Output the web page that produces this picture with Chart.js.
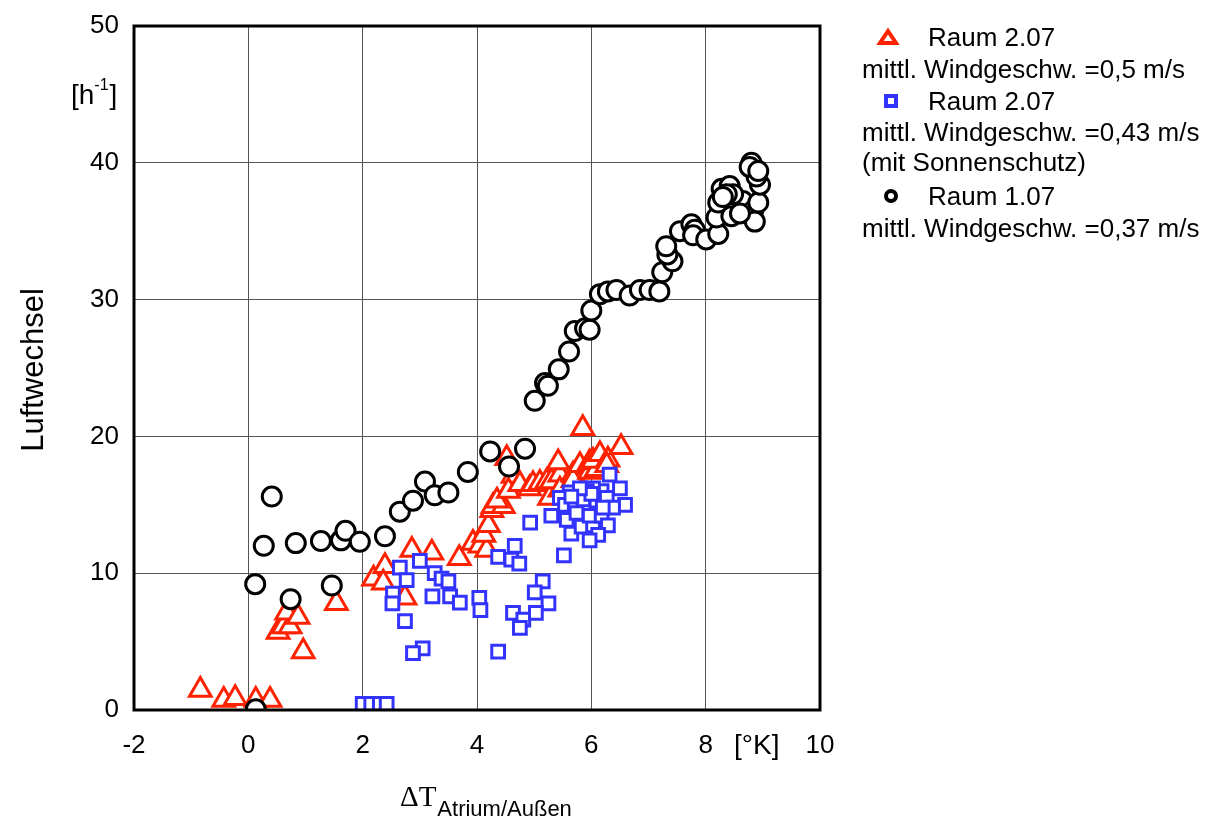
<!DOCTYPE html>
<html>
<head>
<meta charset="utf-8">
<script src="https://cdn.jsdelivr.net/npm/chart.js@4.4.1/dist/chart.umd.min.js"></script>
<style>
  html, body { margin: 0; padding: 0; background: #fff; }
  canvas { display: block; }
</style>
</head>
<body>
<canvas id="chart" width="1210" height="819"></canvas>
<script>
// Raum 2.07, mittl. Windgeschw. 0,5 m/s
const redX = [-0.84, -0.43, -0.23, 0.13, 0.38, 0.52, 0.61, 0.73, 0.67, 0.87, 0.96, 1.54,
  2.19, 2.39, 2.36, 2.74, 2.86, 3.21, 3.69, 3.93, 4.05, 4.17, 4.12, 4.20, 4.26, 4.28, 4.46, 4.35,
  4.52, 4.63, 4.55, 4.75, 4.92, 4.98, 5.10, 5.22, 5.27, 5.30, 5.45, 5.45, 5.42, 5.68, 5.68,
  5.80, 5.85, 5.97, 5.97, 6.09, 6.03, 6.15, 6.29, 6.27, 6.52];
const redY = [1.46, 0.73, 0.85, 0.73, 0.73, 5.7, 6.1, 6.1, 7.1, 6.8, 4.27, 7.8,
  9.6, 10.5, 9.3, 8.2, 11.7, 11.5, 11.1, 12.2, 12.0, 11.7, 12.8, 13.5, 14.6, 14.9, 14.9, 15.3,
  18.4, 17.1, 16.0, 16.5, 16.2, 16.5, 16.6, 16.7, 15.5, 16.7, 17.2, 16.1, 18.1, 17.2, 16.8,
  17.9, 20.6, 17.4, 18.1, 17.6, 18.2, 18.7, 18.3, 17.9, 19.2];

// Raum 2.07, mittl. Windgeschw. 0,43 m/s (mit Sonnenschutz)
const blueX = [2.0, 2.15, 2.3, 2.42, 2.65, 2.77, 3.0, 2.53, 2.52, 2.74, 3.05, 2.88, 3.22, 3.26,
  3.38, 3.50, 3.53, 3.70, 4.04, 4.06, 4.37, 4.37, 4.66, 4.60, 4.74, 4.63, 4.81, 4.75, 4.93,
  5.15, 5.01, 5.25, 5.03, 5.52, 5.30,
  6.32, 6.50, 6.59, 6.18, 6.03, 5.92, 5.62, 5.45, 5.54, 5.71, 5.86, 6.09, 6.27, 6.38, 5.57,
  5.65, 5.83, 6.03, 5.97, 6.18, 6.29, 6.12, 5.97, 5.74, 6.00, 5.80, 6.20, 5.65];
const blueY = [0.45, 0.45, 0.45, 0.45, 10.4, 9.5, 10.9, 8.5, 7.8, 6.5, 4.5, 4.15, 8.3, 10.0,
  9.6, 9.4, 8.3, 7.85, 8.2, 7.3, 4.27, 11.2, 12.0, 11.0, 10.7, 7.1, 6.6, 6.0, 13.7,
  9.4, 8.6, 7.8, 7.1, 11.3, 14.2,
  17.2, 16.2, 15.0, 16.0, 16.2, 16.0, 15.9, 15.5, 15.0, 14.8, 15.4, 15.3, 15.5, 14.8, 13.9,
  12.9, 13.4, 13.5, 14.2, 14.2, 13.5, 12.8, 12.4, 14.4, 15.8, 16.2, 14.8, 15.6];

// Raum 1.07, mittl. Windgeschw. 0,37 m/s
const blackX = [0.13, 0.12, 0.27, 0.41, 0.74, 0.83, 1.27, 1.46, 1.62, 1.70, 1.95, 2.39, 2.65,
  2.88, 3.09, 3.26, 3.50, 3.84, 4.23, 4.56, 4.84,
  5.01, 5.19, 5.24, 5.43, 5.61, 5.71, 5.89, 5.97, 6.00, 6.15, 6.29, 6.44, 6.67, 6.85, 7.02,
  7.19, 7.24, 7.42, 7.33, 7.31, 7.55, 7.75, 7.81, 7.78, 8.01, 8.22, 8.19, 8.22, 8.28, 8.42,
  8.45, 8.65, 8.48, 8.37, 8.83, 8.86, 8.92, 8.95, 8.89, 8.80, 8.77, 8.92, 8.30, 8.60];
const blackY = [0.05, 9.2, 12.0, 15.6, 8.1, 12.2, 12.35, 9.1, 12.4, 13.1, 12.3, 12.7, 14.5,
  15.3, 16.7, 15.7, 15.9, 17.4, 18.9, 17.8, 19.1,
  22.6, 23.9, 23.7, 24.9, 26.2, 27.7, 27.9, 27.8, 29.2, 30.4, 30.6, 30.7, 30.3, 30.7, 30.7,
  30.6, 32.0, 32.8, 33.3, 33.9, 35.0, 35.5, 35.1, 34.7, 34.4, 34.8, 36.0, 37.1, 38.1, 38.3,
  36.1, 37.2, 37.7, 37.7, 36.5, 35.7, 37.1, 38.4, 39.0, 40.0, 39.7, 39.4, 37.5, 36.3];

const xTicks = [-2, 0, 2, 4, 6, 8, 10];
const yTicks = [0, 10, 20, 30, 40, 50];

const SANS = '"Liberation Sans", Arial, Helvetica, sans-serif';
const SERIF = '"Liberation Serif", "Times New Roman", serif';
const RED = '#ff2200';
const BLUE = '#3333ff';

function toPoints(xs, ys) {
    return xs.map((x, i) => ({ x: x, y: ys[i] }));
}

// frame, axis titles and the legend block on the right
const decorations = {
    id: 'decorations',
    afterDatasetsDraw(chart) {
        const { ctx, chartArea: a } = chart;
        ctx.save();
        ctx.strokeStyle = '#000';
        ctx.lineWidth = 3;
        ctx.strokeRect(a.left, a.top, a.right - a.left, a.bottom - a.top);
        ctx.restore();
    },
    afterDraw(chart) {
        const ctx = chart.ctx;
        ctx.save();
        ctx.fillStyle = '#000';
        ctx.textBaseline = 'alphabetic';

        // y title
        ctx.save();
        ctx.translate(43, 370);
        ctx.rotate(-Math.PI / 2);
        ctx.textAlign = 'center';
        ctx.font = '31px ' + SANS;
        ctx.fillText('Luftwechsel', 0, 0);
        ctx.restore();

        // unit [h-1]
        ctx.textAlign = 'left';
        ctx.font = '28px ' + SANS;
        ctx.fillText('[h', 71, 104);
        let w = ctx.measureText('[h').width;
        ctx.font = '16px ' + SANS;
        ctx.fillText('-1', 71 + w, 90);
        let w2 = ctx.measureText('-1').width;
        ctx.font = '28px ' + SANS;
        ctx.fillText(']', 72 + w + w2, 104);

        // unit [°K]
        ctx.fillText('[°K]', 734, 754);

        // x title
        ctx.font = '29px ' + SERIF;
        ctx.fillText('\u0394T', 400, 806);
        w = ctx.measureText('\u0394T').width;
        ctx.font = '22px ' + SANS;
        ctx.fillText('Atrium/Au\u00dfen', 401 + w, 816);

        // legend
        ctx.lineWidth = 4;
        ctx.strokeStyle = RED;
        ctx.fillStyle = '#fff';
        ctx.beginPath();
        ctx.moveTo(888, 31);
        ctx.lineTo(896, 43);
        ctx.lineTo(880, 43);
        ctx.closePath();
        ctx.fill();
        ctx.stroke();

        ctx.strokeStyle = BLUE;
        ctx.fillRect(886, 96, 10, 10);
        ctx.strokeRect(886, 96, 10, 10);

        ctx.strokeStyle = '#000';
        ctx.beginPath();
        ctx.arc(891, 196, 5, 0, Math.PI * 2);
        ctx.fill();
        ctx.stroke();

        ctx.fillStyle = '#000';
        ctx.font = '26px ' + SANS;
        ctx.fillText('Raum 2.07', 928, 46);
        ctx.fillText('mittl. Windgeschw. =0,5 m/s', 862, 78);
        ctx.fillText('Raum 2.07', 928, 110);
        ctx.fillText('mittl. Windgeschw. =0,43 m/s', 862, 141);
        ctx.fillText('(mit Sonnenschutz)', 862, 171);
        ctx.fillText('Raum 1.07', 928, 205);
        ctx.fillText('mittl. Windgeschw. =0,37 m/s', 862, 237);
        ctx.restore();
    }
};

const ctx = document.getElementById('chart').getContext('2d');

new Chart(ctx, {
    type: 'scatter',
    data: {
        datasets: [
            {
                label: 'Raum 1.07',
                data: toPoints(blackX, blackY),
                pointStyle: 'circle',
                pointRadius: 9.5,
                borderColor: '#000',
                backgroundColor: '#fff',
                borderWidth: 3,
                order: 0
            },
            {
                label: 'Raum 2.07 (mit Sonnenschutz)',
                data: toPoints(blueX, blueY),
                pointStyle: 'rect',
                pointRadius: 9,
                borderColor: BLUE,
                backgroundColor: '#fff',
                borderWidth: 3,
                order: 1
            },
            {
                label: 'Raum 2.07',
                data: toPoints(redX, redY),
                pointStyle: 'triangle',
                pointRadius: 12.5,
                borderColor: RED,
                backgroundColor: '#fff',
                borderWidth: 3,
                order: 2
            }
        ]
    },
    options: {
        responsive: false,
        animation: false,
        layout: { padding: { left: 0, top: 26, right: 390, bottom: 0 } },
        plugins: {
            legend: { display: false },
            tooltip: { enabled: false }
        },
        scales: {
            x: {
                type: 'linear',
                min: xTicks[0],
                max: xTicks[xTicks.length - 1],
                afterBuildTicks: s => { s.ticks = xTicks.map(v => ({ value: v })); },
                ticks: { color: '#000', font: { family: SANS, size: 26 }, padding: 20, maxRotation: 0 },
                grid: { color: '#555', lineWidth: 1, tickLength: 0 },
                border: { display: false },
                afterFit: s => { s.height = 109; s.paddingLeft = 0; s.paddingRight = 0; }
            },
            y: {
                type: 'linear',
                min: yTicks[0],
                max: yTicks[yTicks.length - 1],
                afterBuildTicks: s => { s.ticks = yTicks.map(v => ({ value: v })); },
                ticks: { color: '#000', font: { family: SANS, size: 26 }, padding: 15 },
                grid: { color: '#555', lineWidth: 1, tickLength: 0 },
                border: { display: false },
                afterFit: s => { s.width = 134; s.paddingTop = 0; s.paddingBottom = 0; }
            }
        }
    },
    plugins: [decorations]
});
</script>
</body>
</html>
